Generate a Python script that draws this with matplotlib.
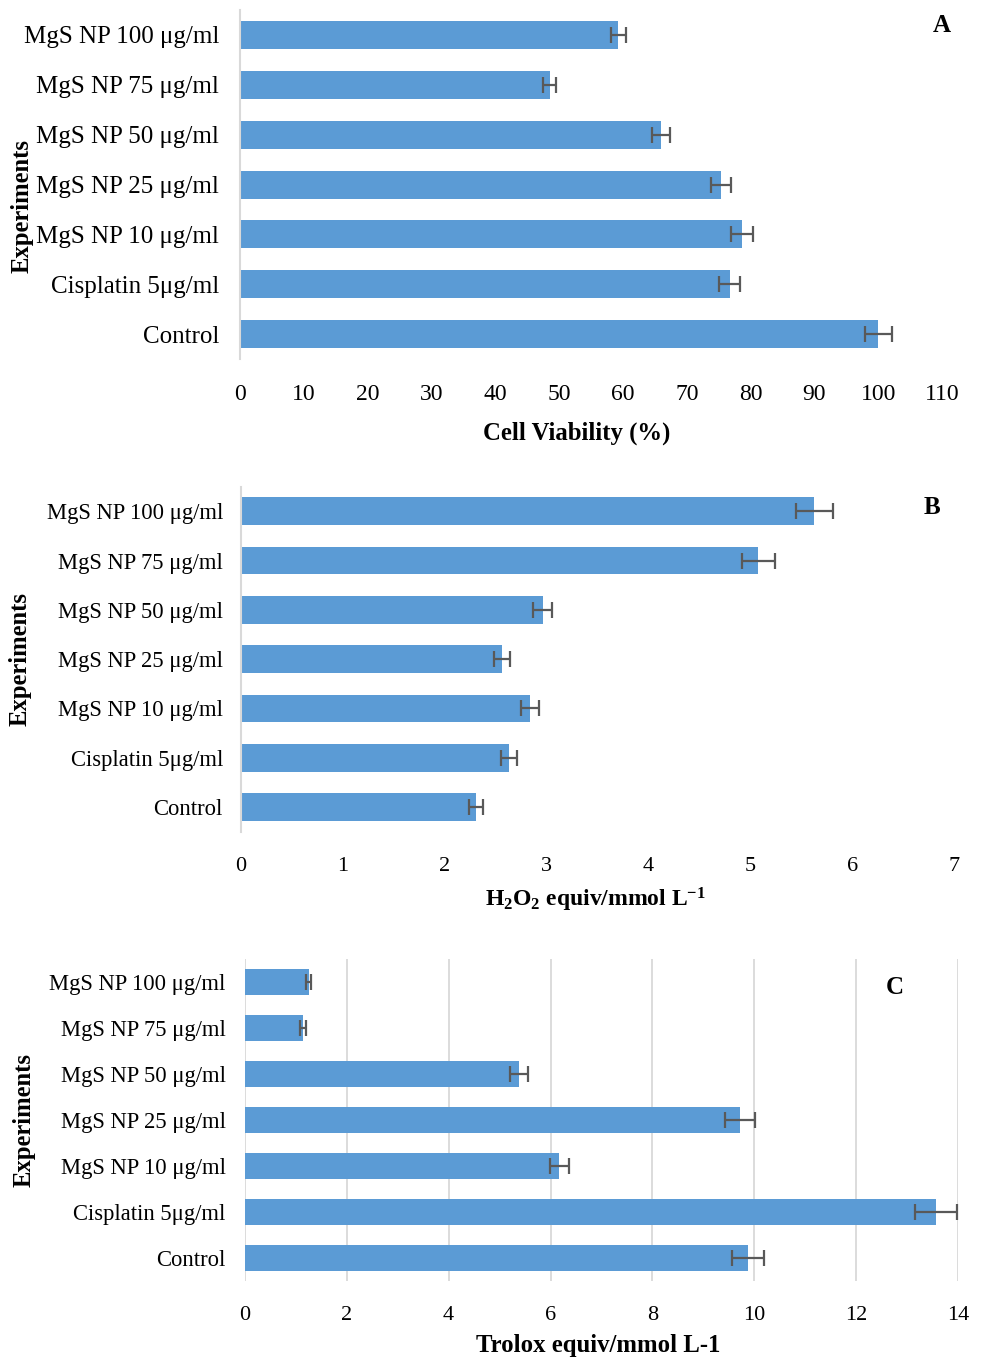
import matplotlib
matplotlib.use("Agg")
import matplotlib.pyplot as plt
import numpy as np

plt.rcParams["font.family"] = ["Liberation Serif", "DejaVu Serif"]
plt.rcParams["mathtext.fontset"] = "custom"
plt.rcParams["mathtext.rm"] = "Liberation Serif:bold"
plt.rcParams["mathtext.it"] = "Liberation Serif:bold"
plt.rcParams["mathtext.bf"] = "Liberation Serif:bold"

labels = ["MgS NP 100 μg/ml", "MgS NP 75 μg/ml", "MgS NP 50 μg/ml", "MgS NP 25 μg/ml",
          "MgS NP 10 μg/ml", "Cisplatin 5μg/ml", "Control"]

# cell viability (%)
viability = [59.3, 48.5, 66.0, 75.4, 78.7, 76.7, 100.0]
viability_err = [1.2, 1.0, 1.4, 1.6, 1.7, 1.6, 2.1]

# H2O2 equivalents
h2o2 = [5.63, 5.08, 2.96, 2.56, 2.84, 2.63, 2.31]
h2o2_err = [0.18, 0.16, 0.09, 0.08, 0.09, 0.08, 0.07]

# Trolox equivalents
trolox = [1.25, 1.14, 5.38, 9.72, 6.17, 13.57, 9.88]
trolox_err = [0.05, 0.05, 0.17, 0.30, 0.19, 0.42, 0.31]

bar_color = "#5B9BD5"
err_color = "#595959"
line_gray = "#d9d9d9"

fig = plt.figure(figsize=(9.83, 13.6), dpi=100)

panels = [
    # rect, values, errors, xmax, xticks, xlabel, letter, letter pos, label size, tick size,
    # xlabel pos, ylabel pos, ytick pad, xlabel size
    ([0.2442, 0.736, 0.7141, 0.2566], viability, viability_err, 110, np.arange(0, 111, 10),
     "Cell Viability (%)", "A", (942, 26), 18, 17, (0.48, -0.212), (-0.3105, 0.438), 15, 17.8),
    ([0.2452, 0.3885, 0.7253, 0.2537], h2o2, h2o2_err, 7, np.arange(0, 8, 1),
     r"H$_2$O$_2$ equiv/mmol L$^{-1}$", "B", (932, 507), 16.3, 16, (0.4965, -0.197), (-0.31, 0.5014), 13, 17),
    ([0.2492, 0.0581, 0.7253, 0.2368], trolox, trolox_err, 14, np.arange(0, 15, 2),
     "Trolox equiv/mmol L-1", "C", (895, 988), 16.3, 16, (0.495, -0.199), (-0.31, 0.5), 14, 17.8),
]

for i, (rect, vals, errs, xmax, xticks, xlabel, letter, lpos, lsize, tsize, xlc, ylc, ypad, xls) in enumerate(panels):
    ax = fig.add_axes(rect)
    y = np.arange(len(labels))
    ax.barh(y, vals, height=0.56, color=bar_color, zorder=2)
    ax.errorbar(vals, y, xerr=errs, fmt="none", ecolor=err_color, elinewidth=1.6,
                capsize=6, capthick=1.6, zorder=3)
    ax.set_ylim(len(labels) - 0.5, -0.5)
    ax.set_xlim(0, xmax)
    ax.set_xticks(xticks)
    ax.set_yticks(y)
    ax.set_yticklabels(labels, fontsize=lsize, va="center_baseline")
    ax.tick_params(axis="x", length=0, pad=18, labelsize=tsize)
    ax.tick_params(axis="y", length=0, pad=ypad)
    for s in ["top", "right", "bottom"]:
        ax.spines[s].set_visible(False)
    if i < 2:
        ax.spines["left"].set_color(line_gray)
        ax.spines["left"].set_linewidth(1.5)
    else:
        ax.spines["left"].set_visible(False)
        ax.grid(axis="x", color=line_gray, linewidth=1.3, zorder=0)
        ax.set_axisbelow(True)
    ax.set_xlabel(xlabel, fontsize=xls, fontweight="bold", va="center")
    ax.xaxis.set_label_coords(*xlc)
    ax.set_ylabel("Experiments", fontsize=17.7, fontweight="bold", va="center")
    ax.yaxis.set_label_coords(*ylc)
    fig.text(lpos[0] / 983, 1 - lpos[1] / 1360, letter, fontsize=18, fontweight="bold",
             ha="center", va="center")

fig.savefig("out.png", dpi=100)
